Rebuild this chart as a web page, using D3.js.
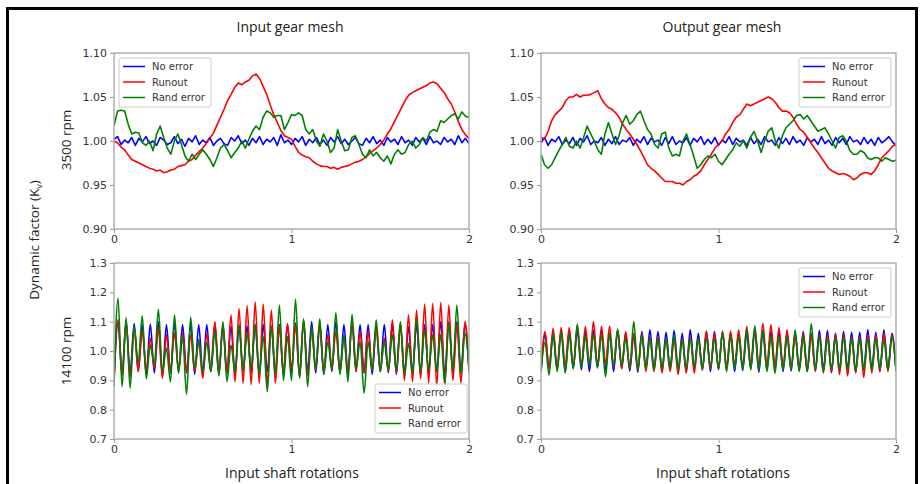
<!DOCTYPE html>
<html>
<head>
<meta charset="utf-8">
<script src="https://cdn.jsdelivr.net/npm/d3@7"></script>
<style>
  html, body { margin: 0; padding: 0; background: #fff; }
  svg { display: block; }
  .tick text { font-family: "DejaVu Sans", sans-serif; font-size: 11px; fill: #333; }
  .label { font-family: "Open Sans", sans-serif; fill: #222; }
  .legend text { font-family: "DejaVu Sans", sans-serif; font-size: 10px; fill: #333; }
</style>
</head>
<body>
<svg id="svg" width="920" height="484"></svg>
<script>
// --- DATA ---
const seriesNames = ["No error", "Runout", "Rand error"];
const seriesColors = ["#0000ff", "#ff0000", "#008000"];
const xTicks = [0, 1, 2];
const yTicksTop = [0.90, 0.95, 1.00, 1.05, 1.10];
const yTicksBottom = [0.7, 0.8, 0.9, 1.0, 1.1, 1.2, 1.3];

// 3500 rpm, sampled every 0.02 shaft rotations
const topInNoError = [1.002,1.005,0.996,1.001,0.998,1.004,0.995,1.003,0.999,1.005,0.997,1.000,0.995,1.004,1.001,0.996,0.998,1.005,0.997,1.002,0.994,1.003,0.999,1.006,0.996,1.001,0.998,1.004,0.995,1.000,1.003,0.997,0.995,1.004,1.000,1.006,0.997,1.001,0.995,1.003,0.998,1.005,0.996,1.002,0.999,1.004,0.995,1.007,0.998,1.001,0.996,1.003,0.999,1.005,0.995,1.002,0.998,1.004,0.996,1.001,0.995,1.004,0.999,1.005,0.997,1.002,0.996,1.000,1.004,0.997,0.995,1.003,0.998,1.005,0.997,1.001,0.995,1.004,0.999,1.002,0.996,1.005,0.998,1.001,0.995,1.004,0.999,1.003,0.996,1.005,0.998,1.000,0.996,1.004,0.999,1.002,0.996,1.006,0.998,1.003,0.997];
const topInRunout = [1.000,0.998,0.993,0.990,0.984,0.979,0.977,0.975,0.973,0.971,
  0.969,0.968,0.966,0.967,0.964,0.965,0.967,0.968,0.971,0.972,
  0.973,0.977,0.979,0.984,0.988,0.992,0.997,1.003,1.009,1.018,
  1.027,1.036,1.046,1.053,1.061,1.066,1.064,1.067,1.069,1.074,
  1.076,1.071,1.062,1.053,1.041,1.030,1.021,1.012,1.006,1.004,
  1.002,0.994,0.987,0.984,0.982,0.981,0.977,0.974,0.972,0.971,
  0.971,0.969,0.970,0.968,0.970,0.971,0.972,0.974,0.976,0.977,
  0.979,0.982,0.986,0.989,0.992,0.996,1.001,1.008,1.014,1.022,
  1.030,1.038,1.046,1.052,1.055,1.057,1.059,1.061,1.063,1.066,
  1.067,1.065,1.060,1.055,1.048,1.042,1.033,1.022,1.013,1.007,1.003];
const topInRand = [1.017,1.034,1.035,1.034,1.019,1.008,1.010,1.009,0.998,0.995,
  1.000,0.989,1.008,1.017,1.004,0.992,0.985,1.000,1.008,0.996,
  0.983,0.977,0.985,0.979,0.985,0.990,0.985,0.979,0.971,0.981,
  0.992,0.996,0.989,0.981,0.987,0.992,1.000,0.992,1.002,1.011,
  1.017,1.013,1.027,1.034,1.032,1.027,1.029,1.029,1.013,1.021,
  1.030,1.029,1.032,1.029,1.013,1.008,1.013,1.000,0.994,1.008,
  1.000,0.987,0.992,1.013,1.000,0.989,0.990,1.004,1.006,0.996,
  0.985,0.981,0.990,0.983,0.987,0.981,0.977,0.983,0.974,0.985,
  0.990,0.985,0.987,0.996,1.000,0.992,0.996,1.004,1.000,1.010,
  1.013,1.011,1.023,1.021,1.025,1.029,1.031,1.025,1.033,1.028,1.027];

const topOutNoError = [0.998,1.004,0.995,1.002,0.999,1.005,0.996,1.001,0.997,1.004,0.995,1.003,0.999,1.006,0.996,1.000,0.998,1.004,0.995,1.002,0.997,1.005,0.996,1.001,0.999,1.004,0.995,1.002,0.998,1.005,0.996,1.003,0.999,1.001,0.995,1.004,0.997,1.005,0.996,1.000,0.998,1.004,0.995,1.003,0.999,1.005,0.996,1.002,0.997,1.004,0.995,1.001,0.998,1.005,0.996,1.003,0.999,1.001,0.995,1.004,0.997,1.002,0.996,1.005,0.999,1.001,0.995,1.004,0.997,1.003,0.996,1.005,0.998,1.001,0.995,1.004,0.999,1.002,0.996,1.005,0.997,1.001,0.995,1.004,0.998,1.003,0.996,1.005,0.999,1.001,0.996,1.004,0.997,1.002,0.995,1.004,0.998,1.001,1.005,0.999,0.995];
const topOutRunout = [1.004,1.002,1.011,1.023,1.030,1.034,1.038,1.046,1.050,1.050,
  1.053,1.050,1.052,1.052,1.053,1.055,1.057,1.048,1.042,1.038,
  1.036,1.032,1.027,1.019,1.013,1.008,1.002,0.996,0.989,0.981,
  0.973,0.969,0.966,0.962,0.958,0.954,0.954,0.954,0.952,0.952,
  0.950,0.954,0.956,0.960,0.962,0.966,0.973,0.979,0.985,0.992,
  0.996,1.000,1.008,1.013,1.021,1.027,1.030,1.036,1.042,1.040,
  1.042,1.044,1.046,1.048,1.050,1.048,1.044,1.038,1.034,1.034,
  1.032,1.027,1.019,1.013,1.010,1.004,0.998,0.992,0.987,0.981,
  0.975,0.969,0.966,0.964,0.962,0.963,0.962,0.960,0.956,0.958,
  0.962,0.964,0.964,0.962,0.966,0.973,0.981,0.985,0.989,0.994,0.996];
const topOutRand = [0.985,0.973,0.969,0.973,0.981,0.989,0.996,1.004,0.994,0.992,
  1.000,0.992,1.004,1.017,1.008,1.000,0.990,0.985,1.008,1.021,
  1.008,0.996,1.006,1.021,1.029,1.019,1.023,1.030,1.034,1.023,
  1.013,1.008,0.996,0.992,1.008,1.010,0.992,0.983,0.985,0.983,
  1.000,1.008,0.996,0.983,0.969,0.973,0.979,0.983,0.981,0.985,
  0.977,0.973,0.979,0.985,0.990,0.998,0.994,1.000,0.992,1.004,
  1.011,1.000,0.987,1.000,1.011,1.015,1.000,0.992,1.006,1.015,
  1.019,1.023,1.029,1.030,1.025,1.029,1.023,1.017,1.011,1.013,
  1.015,1.008,1.000,0.992,1.004,1.006,1.000,0.989,0.985,0.985,
  0.989,0.987,0.981,0.979,0.981,0.981,0.977,0.981,0.979,0.977,0.978];

// 14100 rpm, one peak and one trough per mesh cycle
const botInNoErrorPk = [1.10,1.10,1.094,1.09,1.092,1.10,1.09,1.094,1.09,1.092,1.09,1.09,1.09,1.088,1.085,1.082,1.085,1.09,1.09,1.085,1.09,1.09,1.095,1.10,1.10,1.09,1.09,1.10,1.09,1.10,1.09,1.09,1.085,1.09,1.09,1.088,1.082,1.09,1.09,1.09,1.10,1.10,1.10,1.09];
const botInNoErrorTr = [0.90,0.92,0.925,0.93,0.92,0.925,0.918,0.925,0.93,0.925,0.92,0.925,0.93,0.92,0.925,0.918,0.93,0.925,0.92,0.93,0.925,0.92,0.925,0.918,0.93,0.925,0.92,0.93,0.925,0.92,0.93,0.925,0.92,0.93,0.925,0.92,0.925,0.93,0.918,0.925,0.93,0.92,0.925,0.93,0.93];
const botInRunoutPk = [1.106,1.10,1.08,1.066,1.043,1.077,1.055,1.06,1.06,1.055,1.03,1.06,1.10,1.09,1.123,1.145,1.155,1.168,1.16,1.14,1.083,1.094,1.09,1.106,1.072,1.089,1.055,1.066,1.043,1.10,1.066,1.066,1.077,1.043,1.106,1.094,1.123,1.14,1.16,1.163,1.166,1.157,1.094,1.10];
const botInRunoutTr = [0.90,0.918,0.91,0.93,0.935,0.94,0.907,0.93,0.935,0.93,0.93,0.907,0.93,0.93,0.92,0.895,0.89,0.885,0.89,0.885,0.89,0.93,0.94,0.91,0.915,0.935,0.93,0.94,0.93,0.93,0.93,0.925,0.935,0.93,0.93,0.925,0.90,0.895,0.905,0.89,0.88,0.878,0.90,0.89,0.93];
const botInRandPk = [1.18,1.114,1.083,1.12,1.02,1.142,1.01,1.123,1.05,1.116,1.04,1.03,1.066,1.10,1.02,1.09,1.06,1.09,1.05,1.085,1.157,1.05,1.177,1.11,1.083,1.11,1.032,1.13,1.055,1.125,1.032,1.032,1.106,1.032,1.055,1.10,1.026,1.11,1.072,1.055,1.055,1.094,1.157,1.06];
const botInRandTr = [0.88,0.878,0.873,0.958,0.905,0.952,0.93,0.895,0.924,0.852,0.94,0.93,0.93,0.915,0.895,0.93,0.935,0.94,0.92,0.861,0.92,0.90,0.90,0.907,0.878,0.94,0.92,0.94,0.92,0.895,0.94,0.856,0.935,0.93,0.935,0.935,0.918,0.925,0.93,0.935,0.93,0.89,0.935,0.92,0.95];

const botOutNoErrorPk = [1.055,1.06,1.07,1.066,1.07,1.066,1.07,1.07,1.06,1.07,1.06,1.055,1.066,1.072,1.066,1.064,1.07,1.06,1.072,1.06,1.066,1.066,1.064,1.06,1.06,1.06,1.07,1.066,1.066,1.066,1.06,1.06,1.066,1.06,1.07,1.07,1.06,1.066,1.064,1.064,1.072,1.064,1.072,1.06];
const botOutNoErrorTr = [0.93,0.94,0.935,0.928,0.94,0.936,0.93,0.942,0.934,0.93,0.94,0.932,0.928,0.94,0.936,0.93,0.938,0.934,0.928,0.942,0.935,0.93,0.936,0.94,0.93,0.934,0.94,0.928,0.936,0.94,0.93,0.932,0.94,0.93,0.935,0.938,0.926,0.936,0.94,0.93,0.934,0.94,0.93,0.936,0.93];
const botOutRunoutPk = [1.066,1.077,1.08,1.08,1.085,1.083,1.10,1.083,1.085,1.072,1.066,1.06,1.06,1.049,1.049,1.043,1.038,1.043,1.049,1.043,1.068,1.06,1.068,1.068,1.072,1.083,1.077,1.094,1.089,1.08,1.072,1.055,1.06,1.055,1.055,1.055,1.055,1.055,1.049,1.049,1.055,1.055,1.06,1.055];
const botOutRunoutTr = [0.93,0.94,0.945,0.95,0.945,0.95,0.955,0.95,0.955,0.945,0.94,0.94,0.935,0.93,0.93,0.925,0.93,0.92,0.925,0.925,0.935,0.94,0.94,0.945,0.95,0.945,0.955,0.95,0.95,0.945,0.945,0.94,0.935,0.935,0.93,0.925,0.93,0.92,0.915,0.925,0.91,0.925,0.93,0.93,0.94];
const botOutRandPk = [1.03,1.06,1.066,1.055,1.092,1.049,1.055,1.055,1.06,1.075,1.043,1.10,1.055,1.043,1.043,1.043,1.055,1.038,1.043,1.043,1.043,1.043,1.064,1.049,1.049,1.072,1.086,1.072,1.049,1.049,1.049,1.072,1.049,1.094,1.049,1.043,1.043,1.049,1.043,1.043,1.043,1.043,1.038,1.049];
const botOutRandTr = [0.93,0.918,0.93,0.925,0.94,0.945,0.95,0.945,0.912,0.95,0.95,0.945,0.935,0.94,0.935,0.94,0.94,0.935,0.94,0.945,0.94,0.945,0.94,0.93,0.94,0.94,0.935,0.935,0.93,0.924,0.935,0.935,0.93,0.93,0.935,0.93,0.94,0.935,0.935,0.93,0.935,0.935,0.94,0.935,0.935];

// --- HELPERS ---
function sampled(values) {
  const n = values.length - 1;
  return values.map((v, i) => ({ x: 2 * i / n, y: v }));
}

function meshed(peaks, troughs) {
  const step = 2 / peaks.length;
  const pts = [];
  troughs.forEach((v, j) => {
    pts.push({ x: j * step, y: v });
    if (j < peaks.length) pts.push({ x: (j + 0.5) * step, y: peaks[j] });
  });
  return pts;
}

const panels = [
  { left: 114, top: 53, domain: [0.90, 1.10], ticks: yTicksTop, fmt: ".2f", legend: "upperLeft",
    series: [sampled(topInNoError), sampled(topInRunout), sampled(topInRand)], smooth: false },
  { left: 541, top: 53, domain: [0.90, 1.10], ticks: yTicksTop, fmt: ".2f", legend: "upperRight",
    series: [sampled(topOutNoError), sampled(topOutRunout), sampled(topOutRand)], smooth: false },
  { left: 114, top: 263, domain: [0.7, 1.3], ticks: yTicksBottom, fmt: ".1f", legend: "lowerRight",
    series: [meshed(botInNoErrorPk, botInNoErrorTr), meshed(botInRunoutPk, botInRunoutTr), meshed(botInRandPk, botInRandTr)], smooth: true },
  { left: 541, top: 263, domain: [0.7, 1.3], ticks: yTicksBottom, fmt: ".1f", legend: "upperRight",
    series: [meshed(botOutNoErrorPk, botOutNoErrorTr), meshed(botOutRunoutPk, botOutRunoutTr), meshed(botOutRandPk, botOutRandTr)], smooth: true }
];

const PW = 355, PH = 176;
const svg = d3.select("#svg");

// frame of the screenshot
svg.append("rect").attr("x", 7.5).attr("y", 8.5).attr("width", 909).attr("height", 490)
  .attr("fill", "none").attr("stroke", "#000").attr("stroke-width", 3);

panels.forEach((p, pi) => {
  const x = d3.scaleLinear().domain([0, 2]).range([0, PW]);
  const y = d3.scaleLinear().domain(p.domain).range([PH, 0]);
  const g = svg.append("g").attr("transform", `translate(${p.left},${p.top})`);

  g.append("clipPath").attr("id", "clip" + pi)
    .append("rect").attr("width", PW).attr("height", PH);

  const line = d3.line().x(d => x(d.x)).y(d => y(d.y))
    .curve(p.smooth ? d3.curveMonotoneX : d3.curveLinear);

  const lines = g.append("g").attr("clip-path", `url(#clip${pi})`);
  p.series.forEach((s, si) => {
    lines.append("path").datum(s).attr("d", line)
      .attr("fill", "none").attr("stroke", seriesColors[si])
      .attr("stroke-width", p.smooth ? 1.6 : 1.6).attr("stroke-linejoin", "round");
  });

  // axes
  const yAxis = g.append("g").call(d3.axisLeft(y).tickValues(p.ticks).tickFormat(d3.format(p.fmt)).tickSize(4).tickPadding(3));
  const xAxis = g.append("g").attr("transform", `translate(0,${PH})`)
    .call(d3.axisBottom(x).tickValues(xTicks).tickFormat(d3.format("d")).tickSize(4).tickPadding(2));
  [yAxis, xAxis].forEach(a => {
    a.select(".domain").remove();
    a.selectAll(".tick line").attr("stroke", "#999");
  });
  g.append("rect").attr("width", PW).attr("height", PH)
    .attr("fill", "none").attr("stroke", "#aaa").attr("stroke-width", 1.4);

  // legend
  const lw = 92, lh = 49;
  let lx, ly;
  if (p.legend === "upperLeft") { lx = 5; ly = 5; }
  else if (p.legend === "upperRight") { lx = PW - lw - 5; ly = 5; }
  else { lx = PW - lw - 2; ly = PH - lh - 6; }
  const lg = g.append("g").attr("class", "legend").attr("transform", `translate(${lx},${ly})`);
  lg.append("rect").attr("width", lw).attr("height", lh).attr("rx", 2)
    .attr("fill", "#fff").attr("fill-opacity", 0.8).attr("stroke", "#ccc");
  seriesNames.forEach((name, i) => {
    const ry = 8.5 + i * 15.5;
    lg.append("line").attr("x1", 4).attr("x2", 26).attr("y1", ry).attr("y2", ry)
      .attr("stroke", seriesColors[i]).attr("stroke-width", 1.5);
    lg.append("text").attr("x", 33).attr("y", ry + 3.5).text(name);
  });
});

// titles and labels
svg.append("text").attr("class", "label").attr("x", 290).attr("y", 32)
  .attr("text-anchor", "middle").attr("font-size", 14).text("Input gear mesh");
svg.append("text").attr("class", "label").attr("x", 722).attr("y", 32)
  .attr("text-anchor", "middle").attr("font-size", 14).text("Output gear mesh");
svg.append("text").attr("class", "label").attr("x", 292).attr("y", 478)
  .attr("text-anchor", "middle").attr("font-size", 14).text("Input shaft rotations");
svg.append("text").attr("class", "label").attr("x", 723).attr("y", 478)
  .attr("text-anchor", "middle").attr("font-size", 14).text("Input shaft rotations");

svg.append("text").attr("class", "label").attr("font-size", 13.5).attr("text-anchor", "middle")
  .attr("transform", "translate(71,140) rotate(-90)").text("3500 rpm");
svg.append("text").attr("class", "label").attr("font-size", 13.5).attr("text-anchor", "middle")
  .attr("transform", "translate(71,351) rotate(-90)").text("14100 rpm");

const kv = svg.append("text").attr("class", "label").attr("font-size", 13.5).attr("text-anchor", "middle")
  .attr("transform", "translate(39,240) rotate(-90)");
kv.append("tspan").text("Dynamic factor (K");
kv.append("tspan").attr("font-size", 9).attr("dy", 3).text("v");
kv.append("tspan").attr("dy", -3).text(")");
</script>
</body>
</html>
